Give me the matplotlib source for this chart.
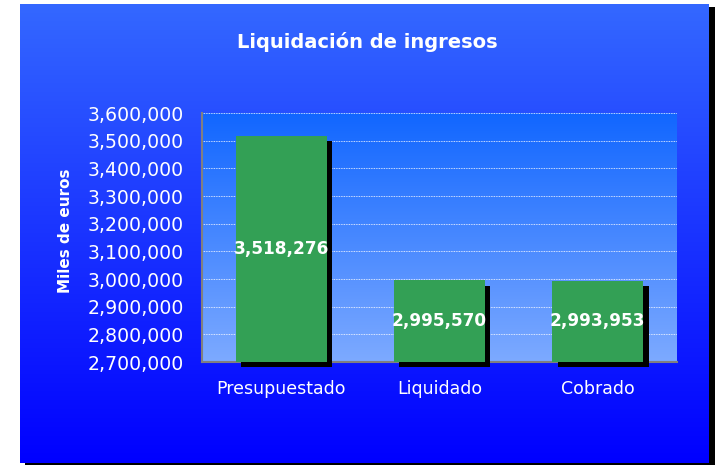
import numpy as np
import matplotlib
matplotlib.use("Agg")
import matplotlib.pyplot as plt
import matplotlib.patheffects as pe
from matplotlib.colors import LinearSegmentedColormap
from matplotlib.ticker import FuncFormatter, MultipleLocator

categories = ["Presupuestado", "Liquidado", "Cobrado"]
values = [3518276, 2995570, 2993953]
y_min, y_max, y_step = 2700000, 3600000, 100000
title = "Liquidación de ingresos"
ylabel = "Miles de euros"

plt.rcParams.update({"font.family": "DejaVu Sans"})
W, H = 717, 465
fig = plt.figure(figsize=(W / 100, H / 100), dpi=100, facecolor="white")

# outer chart box: black drop shadow + blue vertical gradient
shadow = fig.add_axes([25 / W, 0, 690 / W, 458 / H], zorder=-2)
shadow.set_facecolor("black")
shadow.set_xticks([]); shadow.set_yticks([])
for s in shadow.spines.values():
    s.set_visible(False)
bg = fig.add_axes([20 / W, 2 / H, 689 / W, 459 / H], zorder=-1)
bg.imshow(np.linspace(0, 1, 256)[:, None], aspect="auto", extent=[0, 1, 0, 1],
          cmap=LinearSegmentedColormap.from_list("bg", ["#3468ff", "#0000ff"]))
bg.set_axis_off()

ax = fig.add_axes([202 / W, 1 - 362 / H, 475 / W, 249 / H], zorder=1)
ax.imshow(np.linspace(0, 1, 256)[:, None], aspect="auto", extent=[0, 1, 0, 1],
          transform=ax.transAxes, zorder=0,
          cmap=LinearSegmentedColormap.from_list("pa", ["#1166ff", "#7daaff"]))

x = np.arange(len(categories))
heights = np.array(values) - y_min
bars = ax.bar(x, heights, bottom=y_min, width=0.575, color="#33a055", zorder=3, clip_on=False)
for b in bars:
    b.set_path_effects([pe.SimplePatchShadow(offset=(3.8, -3.8), shadow_rgbFace="black", alpha=1.0),
                        pe.Normal()])
for xi, v in zip(x, values):
    ax.text(xi, (v + y_min) / 2, f"{v:,}", ha="center", va="center", color="white",
            fontsize=12.2, fontweight="bold", zorder=4)

ax.set_xlim(-0.5, len(categories) - 0.5)
ax.set_ylim(y_min, y_max)
ax.yaxis.set_major_locator(MultipleLocator(y_step))
ax.yaxis.set_major_formatter(FuncFormatter(lambda v, p: f"{v:,.0f}"))
ax.set_xticks(x)
ax.set_xticklabels(categories)
ax.tick_params(axis="both", length=0, colors="white")
ax.tick_params(axis="y", pad=13, labelsize=13.6)
ax.tick_params(axis="x", pad=13, labelsize=12.5)
ax.grid(axis="y", color="white", linestyle=(0, (1, 1)), linewidth=0.6, zorder=1)
ax.set_axisbelow(True)
for s in ["top", "right"]:
    ax.spines[s].set_visible(False)
for s in ["left", "bottom"]:
    ax.spines[s].set_color("#808080")
    ax.spines[s].set_linewidth(1.5)
    ax.spines[s].set_zorder(2)

fig.text(367 / W, 1 - 42 / H, title, ha="center", va="center", color="white",
         fontsize=14, fontweight="bold")
fig.text(65 / W, 1 - 231 / H, ylabel, ha="center", va="center", rotation=90,
         color="white", fontsize=11, fontweight="bold")

fig.savefig("out.png", dpi=100, facecolor="white")
